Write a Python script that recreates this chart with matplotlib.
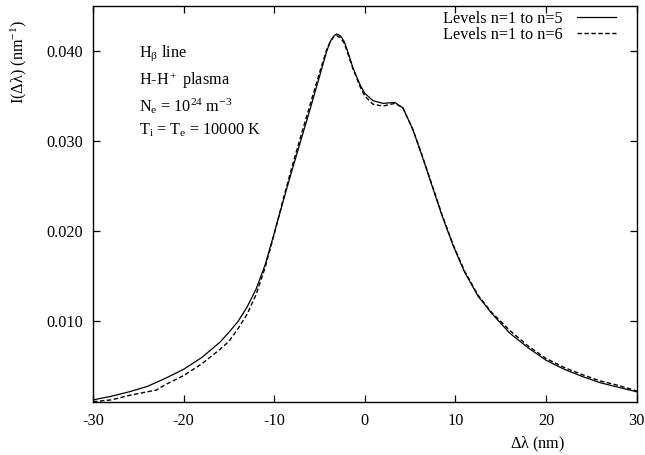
import numpy as np
import matplotlib
matplotlib.use("Agg")
import matplotlib.pyplot as plt

plt.rcParams['font.family'] = ['Liberation Serif', 'DejaVu Serif']
plt.rcParams['mathtext.fontset'] = 'stix'
plt.rcParams['mathtext.default'] = 'regular'
plt.rcParams['font.size'] = 11.7

# profile, levels n=1 to n=5 (solid)
dl5 = [-30, -28, -26, -24, -22, -20, -18, -16, -15, -14, -13, -12, -11, -10,
       -9, -8, -7, -6, -5, -4.2, -3.8, -3.4, -3.1, -2.7, -2.3, -2, -1.3,
       -0.5, 0, 0.9, 2, 3.3, 4.2, 5.3, 6.3, 7.5, 8.5, 9.75, 11, 12.5, 14, 16,
       18, 20, 22, 24, 26, 28, 30]
i5 = [0.0013, 0.0017, 0.0022, 0.0028, 0.0037, 0.0047, 0.0060, 0.0077, 0.0088,
      0.0100, 0.0116, 0.0136, 0.0163, 0.0198, 0.0234, 0.0269, 0.0303, 0.0337,
      0.0372, 0.0400, 0.0411, 0.0417, 0.0419, 0.0417, 0.0411, 0.0403, 0.0381,
      0.0362, 0.0353, 0.0345, 0.0342, 0.0343, 0.0337, 0.0313, 0.0284, 0.0248,
      0.0218, 0.0184, 0.0155, 0.0128, 0.0109, 0.0087, 0.0071, 0.0057, 0.0047,
      0.0039, 0.0032, 0.0027, 0.0022]

# profile, levels n=1 to n=6 (dashed)
dl6 = [-30, -28, -26, -24, -23, -22, -20, -18, -16, -15, -14, -13, -12, -11,
       -10, -9, -8, -7, -6, -5, -4.2, -3.8, -3.4, -3.1, -2.7, -2.3, -2, -1.3,
       -0.5, 0, 0.9, 2, 3.3, 4.2, 5.3, 6.3, 7.5, 8.5, 9.75, 11, 12.5, 14, 16,
       18, 20, 22, 24, 26, 28, 30]
i6 = [0.0011, 0.0013, 0.0018, 0.0022, 0.0024, 0.0030, 0.0040, 0.0053, 0.0069,
      0.0078, 0.0092, 0.0108, 0.0130, 0.0160, 0.0197, 0.0236, 0.0273, 0.0308,
      0.0342, 0.0376, 0.0402, 0.0411, 0.0416, 0.0417, 0.0415, 0.0409, 0.0401,
      0.0380, 0.0360, 0.0350, 0.0341, 0.0339, 0.0342, 0.0337, 0.0313, 0.0285,
      0.0249, 0.0219, 0.0185, 0.0156, 0.0129, 0.0110, 0.0090, 0.0073, 0.0059,
      0.0049, 0.0041, 0.0034, 0.0029, 0.0023]

xticks = [-30, -20, -10, 0, 10, 20, 30]
yticks = [0.010, 0.020, 0.030, 0.040]
notes = [r'H$_\beta$ line', r'H-H$^+$ plasma',
         r'N$_e$ = 10$^{24}$ m$^{-3}$', r'T$_i$ = T$_e$ = 10000 K']

fig = plt.figure(figsize=(6.45, 4.55), dpi=100)
ax = fig.add_axes([0.1442, 0.1171, 0.8429, 0.8697])

ax.plot(dl5, i5, color='black', lw=0.9, label='Levels n=1 to n=5')
ax.plot(dl6, i6, color='black', lw=1.0, dashes=(3.2, 1.8),
        label='Levels n=1 to n=6')

ax.set_xlim(-30, 30)
ax.set_ylim(0.0011, 0.045)
ax.set_xticks(xticks)
ax.set_xticklabels(['%d' % t for t in xticks])
ax.set_yticks(yticks)
ax.set_yticklabels(['%.3f' % t for t in yticks])
ax.tick_params(direction='in', length=5, width=0.9, top=True, right=True,
               labelsize=11.7, colors='black')
ax.tick_params(axis='y', pad=7)
ax.tick_params(axis='x', pad=8)
for s in ax.spines.values():
    s.set_linewidth(1.0)

ax.set_xlabel(r'$\Delta\lambda$ (nm)')
ax.xaxis.set_label_coords(0.818, -0.084)
ax.set_ylabel(r'I($\Delta\lambda$) (nm$^{-1}$)')
ax.yaxis.set_label_coords(-0.118, 0.858)

ys = [0.871, 0.800, 0.732, 0.674]
for t, y in zip(notes, ys):
    ax.text(0.0846, y, t, transform=ax.transAxes, va='baseline', ha='left')

ax.legend(loc='upper right', bbox_to_anchor=(0.986, 1.02), frameon=False,
          markerfirst=False, handlelength=2.4, handletextpad=0.9,
          labelspacing=0.0, borderpad=0.3, fontsize=11.7)

fig.savefig('out.png', dpi=100)
